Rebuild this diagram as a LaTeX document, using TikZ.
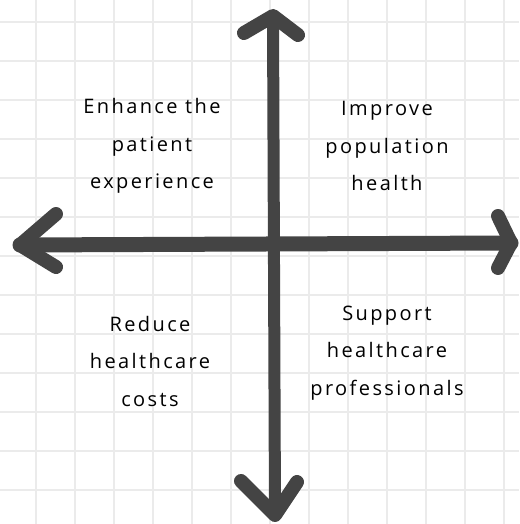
\documentclass[tikz,border=0pt]{standalone}
\usepackage{fontspec}
\setmainfont{Open Sans}[LetterSpace=12]
\usepackage{tikz}
\definecolor{axisgray}{HTML}{444444}
\definecolor{gridgray}{HTML}{EBEBEB}

\begin{document}
\begin{tikzpicture}[x=1pt,y=-1pt]
    \tikzstyle{gridline}=[draw=gridgray, line width=1.5pt]
    \tikzstyle{shaft}=[draw=axisgray, line width=12pt, line cap=round]
    \tikzstyle{head}=[draw=axisgray, line width=14pt, line cap=round, line join=round]
    \tikzstyle{goal}=[align=center, inner sep=0pt, font=\fontsize{20}{37.5}\selectfont]
    \fill[white] (0,0) rectangle (519,524);
    \useasboundingbox (0,0) rectangle (519,524);

    % squared paper
    \foreach \gx in {36,75,...,504} \draw[gridline] (\gx,0) -- (\gx,524);
    \foreach \gy in {22,61,...,490} \draw[gridline] (0,\gy) -- (519,\gy);

    % axis ends
    \coordinate (N) at (273,16);
    \coordinate (S) at (275,515);
    \coordinate (W) at (20,245);
    \coordinate (E) at (511,243);

    \path[-] (W) edge [shaft, line width=15pt] (E);
    \path[-] (N) edge [shaft] (S);

    % open heads
    \draw[head] ([shift={(-29,17)}]N) -- (N) -- ([shift={(25,19)}]N);
    \draw[head] ([shift={(-34,-34)}]S) -- (S) -- ([shift={(22,-33)}]S);
    \draw[head] ([shift={(36,-31)}]W) -- (W) -- ([shift={(36,22)}]W);
    \draw[head] ([shift={(-13,-27)}]E) -- (E) -- ([shift={(-13,25)}]E);

    \node[goal] (patient) at (152,146) {Enhance the\\patient\\experience};
    \node[goal] (population) at (387,146) {Improve\\population\\health};
    \node[goal] (costs) at (150,361) {Reduce\\healthcare\\costs};
    \node[goal] (staff) at (387,353) {Support\\healthcare\\professionals};
\end{tikzpicture}
\end{document}
